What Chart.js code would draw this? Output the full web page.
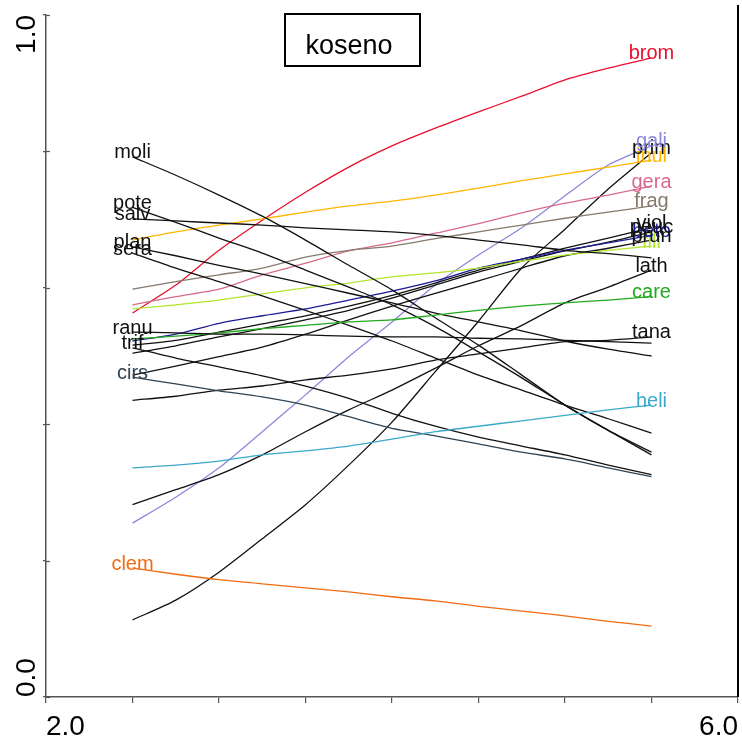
<!DOCTYPE html>
<html>
<head>
<meta charset="utf-8">
<script src="https://cdn.jsdelivr.net/npm/chart.js@4/dist/chart.umd.min.js"></script>
<style>
  html, body { margin: 0; padding: 0; background: #ffffff; }
  canvas { display: block; }
</style>
</head>
<body>
<canvas id="chart" width="742" height="743"></canvas>
<script>
// Gradient positions shared by every response curve
const xs = [2.5, 2.75, 3.0, 3.25, 3.5, 3.75, 4.0, 4.25, 4.5, 4.75, 5.0, 5.25, 5.5];

// Fitted responses per species
const brom = [0.563, 0.604, 0.655, 0.699, 0.740, 0.777, 0.808, 0.834, 0.858, 0.881, 0.905, 0.922, 0.937];
const gali = [0.255, 0.293, 0.336, 0.389, 0.443, 0.499, 0.550, 0.604, 0.648, 0.688, 0.735, 0.780, 0.808];
const prim = [0.113, 0.142, 0.183, 0.232, 0.282, 0.340, 0.403, 0.477, 0.551, 0.629, 0.686, 0.745, 0.798];
const inul = [0.670, 0.682, 0.692, 0.701, 0.711, 0.720, 0.727, 0.736, 0.746, 0.757, 0.767, 0.777, 0.787];
const gera = [0.575, 0.587, 0.598, 0.619, 0.636, 0.654, 0.666, 0.680, 0.694, 0.710, 0.724, 0.736, 0.749];
const frag = [0.598, 0.609, 0.619, 0.629, 0.645, 0.655, 0.661, 0.672, 0.682, 0.692, 0.702, 0.711, 0.720];
const fili = [0.569, 0.575, 0.582, 0.591, 0.600, 0.607, 0.616, 0.622, 0.629, 0.639, 0.648, 0.655, 0.661];
const beto = [0.522, 0.532, 0.548, 0.559, 0.569, 0.582, 0.595, 0.610, 0.629, 0.642, 0.655, 0.666, 0.677];
const viol = [0.516, 0.523, 0.535, 0.547, 0.559, 0.573, 0.589, 0.607, 0.626, 0.642, 0.658, 0.673, 0.688];
const peuc = [0.504, 0.515, 0.528, 0.540, 0.553, 0.567, 0.585, 0.604, 0.623, 0.639, 0.654, 0.667, 0.682];
const prun = [0.472, 0.485, 0.499, 0.513, 0.532, 0.553, 0.573, 0.592, 0.610, 0.629, 0.647, 0.658, 0.670];
const lath = [0.282, 0.304, 0.326, 0.355, 0.389, 0.421, 0.450, 0.482, 0.515, 0.545, 0.578, 0.601, 0.626];
const care = [0.525, 0.529, 0.534, 0.540, 0.545, 0.550, 0.553, 0.560, 0.567, 0.573, 0.578, 0.582, 0.587];
const tana = [0.435, 0.441, 0.450, 0.456, 0.465, 0.472, 0.481, 0.494, 0.503, 0.512, 0.521, 0.523, 0.528];
const heli = [0.336, 0.340, 0.346, 0.355, 0.361, 0.368, 0.378, 0.389, 0.397, 0.405, 0.413, 0.421, 0.428];
const moli = [0.792, 0.765, 0.736, 0.705, 0.670, 0.633, 0.597, 0.556, 0.516, 0.472, 0.428, 0.391, 0.355];
const pote = [0.718, 0.696, 0.673, 0.651, 0.626, 0.601, 0.575, 0.543, 0.506, 0.468, 0.428, 0.391, 0.359];
const salv = [0.701, 0.698, 0.695, 0.692, 0.688, 0.685, 0.682, 0.677, 0.670, 0.663, 0.655, 0.650, 0.644];
const plan = [0.660, 0.647, 0.633, 0.620, 0.606, 0.592, 0.578, 0.563, 0.550, 0.537, 0.522, 0.510, 0.500];
const sera = [0.651, 0.629, 0.609, 0.588, 0.567, 0.545, 0.522, 0.497, 0.472, 0.450, 0.428, 0.408, 0.387];
const ranu = [0.535, 0.534, 0.532, 0.532, 0.531, 0.529, 0.528, 0.528, 0.526, 0.525, 0.523, 0.521, 0.519];
const trif = [0.512, 0.497, 0.484, 0.471, 0.456, 0.438, 0.416, 0.397, 0.381, 0.368, 0.355, 0.340, 0.326];
const cirs = [0.469, 0.459, 0.449, 0.440, 0.428, 0.411, 0.394, 0.383, 0.371, 0.359, 0.349, 0.336, 0.323];
const clem = [0.189, 0.180, 0.172, 0.166, 0.160, 0.154, 0.147, 0.141, 0.133, 0.126, 0.119, 0.111, 0.104];

// Axis end labels
const xTickLabels = ['2.0', '6.0'];
const yTickLabels = ['0.0', '1.0'];
const panelTitle = 'koseno';

const species = [
  { name: 'clem', values: clem, color: '#f26a12' },
  { name: 'heli', values: heli, color: '#3aa9c9' },
  { name: 'cirs', values: cirs, color: '#2e4455' },
  { name: 'trif', values: trif, color: '#111111' },
  { name: 'ranu', values: ranu, color: '#111111' },
  { name: 'tana', values: tana, color: '#111111' },
  { name: 'care', values: care, color: '#22aa1e' },
  { name: 'lath', values: lath, color: '#111111' },
  { name: 'sera', values: sera, color: '#111111' },
  { name: 'plan', values: plan, color: '#111111' },
  { name: 'salv', values: salv, color: '#111111' },
  { name: 'pote', values: pote, color: '#111111' },
  { name: 'moli', values: moli, color: '#111111' },
  { name: 'fili', values: fili, color: '#b2e62e' },
  { name: 'beto', values: beto, color: '#1c1a96' },
  { name: 'peuc', values: peuc, color: '#111111' },
  { name: 'viol', values: viol, color: '#111111' },
  { name: 'prun', values: prun, color: '#111111' },
  { name: 'frag', values: frag, color: '#857a6c' },
  { name: 'gera', values: gera, color: '#d86b8b' },
  { name: 'inul', values: inul, color: '#ffb600' },
  { name: 'prim', values: prim, color: '#111111' },
  { name: 'gali', values: gali, color: '#8b88d9' },
  { name: 'brom', values: brom, color: '#e8102e' }
];

const FONT = "'Liberation Sans', Arial, sans-serif";

// Writes each species name at the higher end of its curve, plus frame and axis texts
const annotate = {
  id: 'annotate',
  afterDatasetsDraw(chart) {
    const c = chart.ctx;
    const area = chart.chartArea;
    const xScale = chart.scales.x;
    const yScale = chart.scales.y;
    c.save();

    // right frame edge
    c.strokeStyle = '#000000';
    c.lineWidth = 2;
    c.beginPath();
    c.moveTo(area.right, area.top - 10);
    c.lineTo(area.right, area.bottom);
    c.stroke();

    // curve names
    c.font = '20px ' + FONT;
    c.textAlign = 'center';
    c.textBaseline = 'middle';
    chart.data.datasets.forEach((ds, i) => {
      const pts = chart.getDatasetMeta(i).data;
      const last = pts.length - 1;
      const idx = ds.data[0].y >= ds.data[last].y ? 0 : last;
      c.fillStyle = ds.borderColor;
      c.fillText(ds.label, pts[idx].x, pts[idx].y - 4);
    });

    // x-axis end labels
    c.fillStyle = '#000000';
    c.font = '28px ' + FONT;
    c.textBaseline = 'alphabetic';
    c.textAlign = 'left';
    c.fillText(xTickLabels[0], xScale.getPixelForValue(2), area.bottom + 38);
    c.textAlign = 'right';
    c.fillText(xTickLabels[1], xScale.getPixelForValue(6), area.bottom + 38);

    // y-axis end labels, rotated
    c.save();
    c.translate(35, yScale.getPixelForValue(0));
    c.rotate(-Math.PI / 2);
    c.textAlign = 'left';
    c.fillText(yTickLabels[0], 0, 0);
    c.restore();
    c.save();
    c.translate(35, yScale.getPixelForValue(1));
    c.rotate(-Math.PI / 2);
    c.textAlign = 'right';
    c.fillText(yTickLabels[1], 0, 0);
    c.restore();

    // small inward tick stubs on the left axis
    c.strokeStyle = '#555555';
    c.lineWidth = 1.2;
    yScale.ticks.forEach(t => {
      const py = Math.round(yScale.getPixelForValue(t.value)) + 0.5;
      c.beginPath();
      c.moveTo(area.left, py);
      c.lineTo(area.left + 4, py);
      c.stroke();
    });

    // title box
    c.lineWidth = 2;
    c.strokeStyle = '#000000';
    c.strokeRect(285, 14, 135, 52);
    c.font = '27px ' + FONT;
    c.textAlign = 'center';
    c.textBaseline = 'alphabetic';
    c.fillText(panelTitle, 349, 54);

    c.restore();
  }
};

new Chart(document.getElementById('chart'), {
  type: 'line',
  data: {
    datasets: species.map(s => ({
      label: s.name,
      data: xs.map((x, i) => ({ x: x, y: s.values[i] })),
      borderColor: s.color,
      borderWidth: 1.3,
      pointRadius: 0,
      fill: false,
      tension: 0.25
    }))
  },
  options: {
    responsive: false,
    animation: false,
    events: [],
    layout: { padding: { top: 15, right: 4, left: 0, bottom: 0 } },
    plugins: { legend: { display: false }, tooltip: { enabled: false } },
    scales: {
      x: {
        type: 'linear', min: 2, max: 6,
        ticks: { stepSize: 0.5, display: false },
        grid: { drawOnChartArea: false, drawTicks: true, tickLength: 6, color: '#555555', lineWidth: 1.2 },
        border: { color: '#555555', width: 1.5 },
        afterFit(scale) { scale.height = 46; }
      },
      y: {
        type: 'linear', min: 0, max: 1,
        ticks: { stepSize: 0.2, display: false },
        grid: { drawOnChartArea: false, drawTicks: true, tickLength: 3, color: '#555555', lineWidth: 1.2 },
        border: { color: '#555555', width: 1.5 },
        afterFit(scale) { scale.width = 46; }
      }
    }
  },
  plugins: [annotate]
});
</script>
</body>
</html>
